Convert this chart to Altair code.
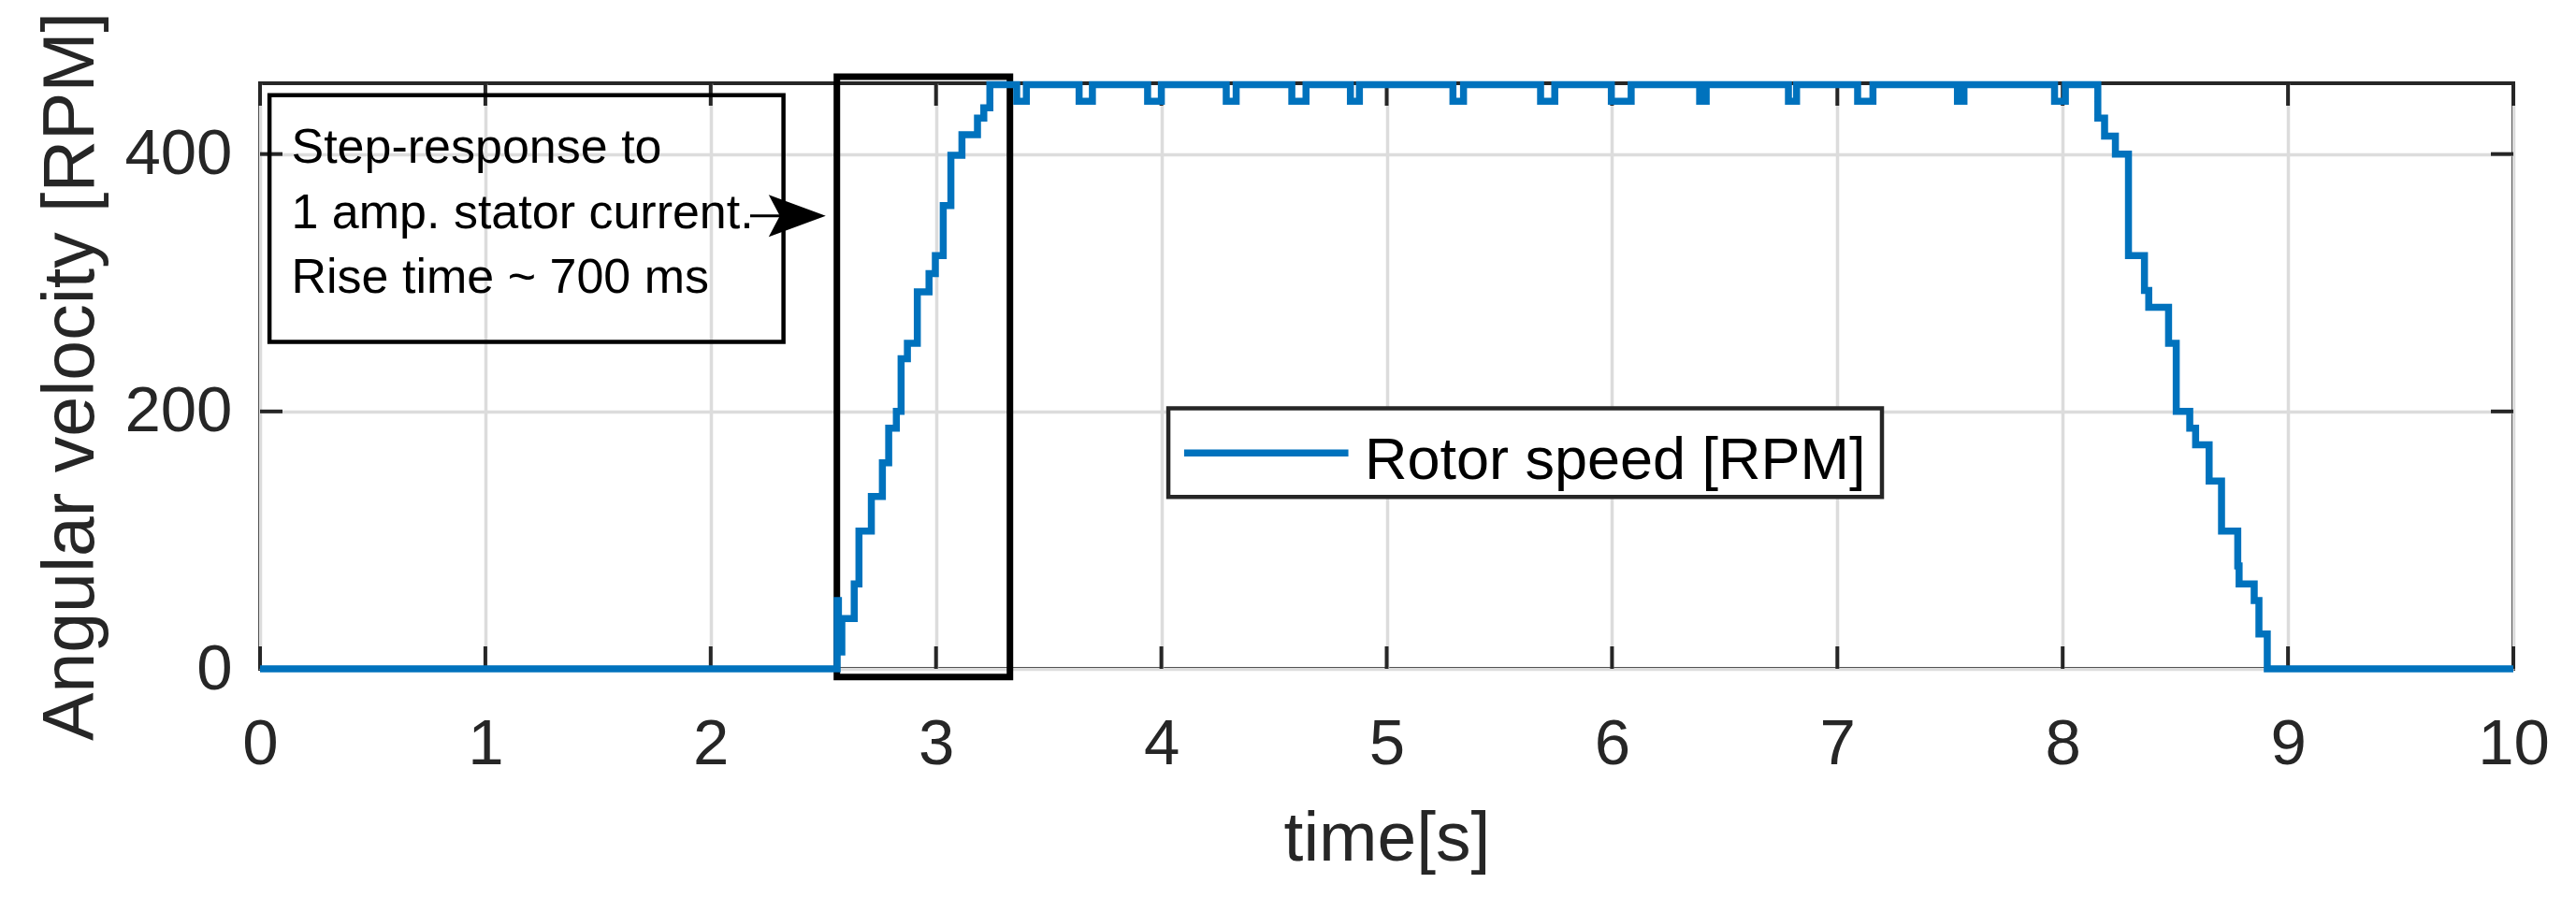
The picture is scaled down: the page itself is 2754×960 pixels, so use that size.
import altair as alt
import pandas as pd

# ---- data: rotor speed step trace (step-after) ----
time_s = [0.0, 2.561, 2.567, 2.582, 2.637, 2.658, 2.713, 2.762, 2.790, 2.824,
          2.845, 2.873, 2.917, 2.969, 2.997, 3.032, 3.066, 3.115, 3.184, 3.212,
          3.239, 3.358, 3.401, 3.635, 3.694, 3.939, 4.000, 4.288, 4.332, 4.579,
          4.642, 4.839, 4.879, 5.294, 5.341, 5.683, 5.746, 5.997, 6.085, 6.389,
          6.418, 6.783, 6.819, 7.090, 7.158, 7.533, 7.562, 7.964, 8.012, 8.156,
          8.186, 8.234, 8.292, 8.363, 8.382, 8.470, 8.504, 8.564, 8.590, 8.650,
          8.705, 8.777, 8.783, 8.850, 8.871, 8.908, 10.0]
speed_rpm = [0, 53, 13, 39, 66, 107, 134, 160, 187, 200,
             241, 253, 293, 307, 321, 360, 399, 415, 428, 436,
             454, 441, 454, 441, 454, 441, 454, 441, 454, 441,
             454, 441, 454, 441, 454, 441, 454, 441, 454, 441,
             454, 441, 454, 441, 454, 441, 454, 441, 454, 428,
             414, 400, 321, 294, 281, 253, 200, 187, 174, 146,
             107, 80, 66, 53, 27, 0, 0]

x_ticks = list(range(0, 11))
y_ticks = [0, 200, 400]
x_domain = [0, 10]
y_domain = [0, 455]

# ---- annotations (data coordinates) ----
window_t = [2.560, 3.328]
window_v = [-6.3, 460]
note_box_t = [0.042, 2.323]
note_box_v = [254.0, 445.7]
note_lines = ["Step-response to", "1 amp. stator current.", "Rise time ~ 700 ms"]
note_t = [0.139, 0.139, 0.139]
note_v = [393.0, 342.0, 292.5]
arrow_t = [2.175, 2.384]
arrow_v = [352.0, 352.0]
legend_box_t = [4.031, 7.198]
legend_box_v = [133.6, 202.5]
legend_line_t = [4.101, 4.830]
legend_line_v = [167.7, 167.7]
legend_text_t = [4.902]
legend_text_v = [147.6]
legend_label = ["Rotor speed [RPM]"]

W, H = 2409, 626
FONT = "Liberation Sans"
AX = "#262626"
BLUE = "#0072BD"
TICK = 24

xs = alt.Scale(domain=x_domain, nice=False, zero=False)
ys = alt.Scale(domain=y_domain, nice=False, zero=False)
xaxis = alt.Axis(values=x_ticks, title="time[s]", grid=True, labelFlush=False,
                 labelPadding=46, titleY=204, titleBaseline="alphabetic",
                 titleFontSize=75)
yaxis = alt.Axis(values=y_ticks, title="Angular velocity [RPM]", grid=True,
                 labelPadding=30, titleX=-179, titleY=H / 2,
                 titleBaseline="alphabetic", titleFontSize=77)


def X(f):
    return alt.X(f, type="quantitative", scale=xs, axis=xaxis)


def Y(f):
    return alt.Y(f, type="quantitative", scale=ys, axis=yaxis)


df = pd.DataFrame({"t": time_s, "v": speed_rpm})
xt = pd.DataFrame({"t": x_ticks})
yt = pd.DataFrame({"v": y_ticks})

ticks_bottom = alt.Chart(xt).mark_rule(color=AX, strokeWidth=4).encode(
    x=X("t"), y=alt.value(H), y2=alt.value(H - TICK))
ticks_top = alt.Chart(xt).mark_rule(color=AX, strokeWidth=4).encode(
    x=X("t"), y=alt.value(0), y2=alt.value(TICK))
ticks_left = alt.Chart(yt).mark_rule(color=AX, strokeWidth=4).encode(
    y=Y("v"), x=alt.value(0), x2=alt.value(TICK))
ticks_right = alt.Chart(yt).mark_rule(color=AX, strokeWidth=4).encode(
    y=Y("v"), x=alt.value(W), x2=alt.value(W - TICK))

win_df = pd.DataFrame({"t1": [window_t[0]], "t2": [window_t[1]],
                       "v1": [window_v[0]], "v2": [window_v[1]]})
window = alt.Chart(win_df).mark_rect(fill="transparent", stroke="black",
                                     strokeWidth=7).encode(
    x=X("t1"), x2=alt.X2("t2"), y=Y("v1"), y2=alt.Y2("v2"))

nb_df = pd.DataFrame({"t1": [note_box_t[0]], "t2": [note_box_t[1]],
                      "v1": [note_box_v[0]], "v2": [note_box_v[1]]})
note_box = alt.Chart(nb_df).mark_rect(fill="transparent", stroke="black",
                                      strokeWidth=4.5).encode(
    x=X("t1"), x2=alt.X2("t2"), y=Y("v1"), y2=alt.Y2("v2"))

nt_df = pd.DataFrame({"t": note_t, "v": note_v, "label": note_lines})
note_text = alt.Chart(nt_df).mark_text(align="left", baseline="alphabetic",
                                       font=FONT, fontSize=52,
                                       color="black").encode(
    x=X("t"), y=Y("v"), text="label:N")

ar_df = pd.DataFrame({"t1": [arrow_t[0]], "t2": [arrow_t[1]],
                      "v": [arrow_v[0]]})
arrow_line = alt.Chart(ar_df).mark_rule(color="black", strokeWidth=3).encode(
    x=X("t1"), x2=alt.X2("t2"), y=Y("v"))
ah_df = pd.DataFrame({"t": [arrow_t[1]], "v": [arrow_v[1]]})
arrow_head = alt.Chart(ah_df).mark_point(
    shape="M 1 0 L -1 -0.74 L -0.61 0 L -1 0.74 Z", size=3721, filled=True,
    color="black", opacity=1, strokeWidth=0).encode(x=X("t"), y=Y("v"))

line = alt.Chart(df).mark_line(interpolate="step-after", color=BLUE,
                               strokeWidth=7.5).encode(x=X("t"), y=Y("v"))

lb_df = pd.DataFrame({"t1": [legend_box_t[0]], "t2": [legend_box_t[1]],
                      "v1": [legend_box_v[0]], "v2": [legend_box_v[1]]})
legend_box = alt.Chart(lb_df).mark_rect(fill="white", stroke=AX,
                                        strokeWidth=4.5).encode(
    x=X("t1"), x2=alt.X2("t2"), y=Y("v1"), y2=alt.Y2("v2"))
ll_df = pd.DataFrame({"t1": [legend_line_t[0]], "t2": [legend_line_t[1]],
                      "v": [legend_line_v[0]]})
legend_line = alt.Chart(ll_df).mark_rule(color=BLUE, strokeWidth=7.5).encode(
    x=X("t1"), x2=alt.X2("t2"), y=Y("v"))
lt_df = pd.DataFrame({"t": legend_text_t, "v": legend_text_v,
                      "label": legend_label})
legend_text = alt.Chart(lt_df).mark_text(align="left", baseline="alphabetic",
                                         font=FONT, fontSize=63,
                                         color="black").encode(
    x=X("t"), y=Y("v"), text="label:N")

chart = alt.layer(
    ticks_bottom, ticks_top, ticks_left, ticks_right,
    note_box, note_text, arrow_line, arrow_head,
    window, line,
    legend_box, legend_line, legend_text,
).properties(
    width=W, height=H,
    autosize=alt.AutoSizeParams(type="none"),
    padding={"left": 270, "top": 81, "right": 50, "bottom": 220},
    background="white",
).configure_view(
    stroke=AX, strokeWidth=4
).configure_axis(
    labelFont=FONT, labelFontSize=69, labelColor=AX,
    titleFont=FONT, titleColor=AX, titleFontWeight="normal",
    gridColor="#dcdcdc", gridWidth=3.5, gridOpacity=1,
    domain=False, ticks=False, tickSize=0,
)

chart.save("out.html", embed_options={"renderer": "svg", "actions": False})
